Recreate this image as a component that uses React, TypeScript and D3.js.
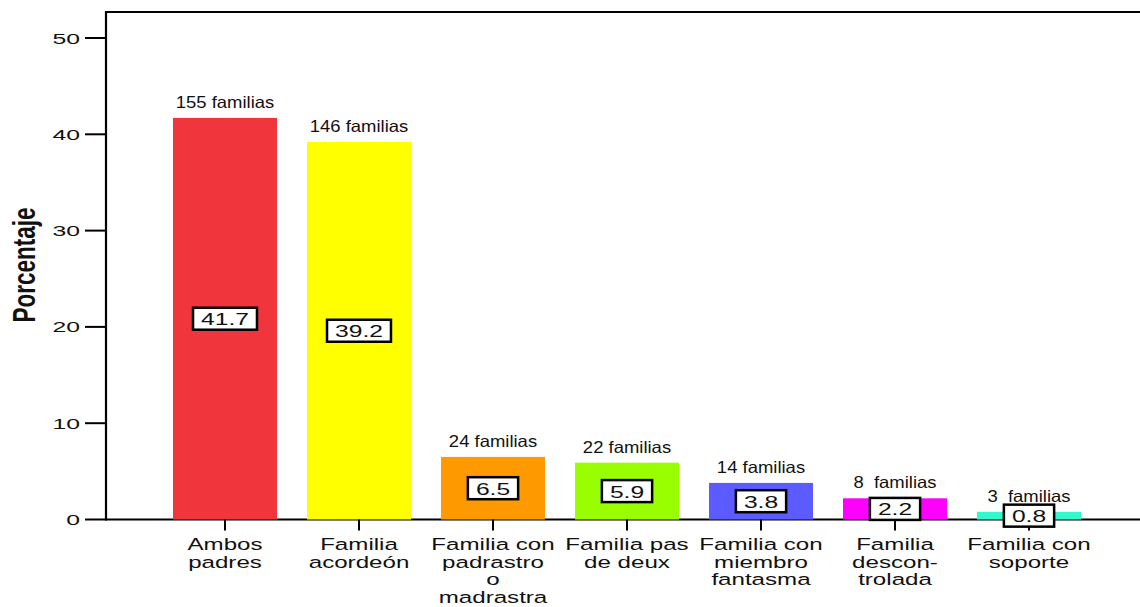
import React, { useEffect, useRef } from 'react';
import * as d3 from 'd3';

const categories = [
  ['Ambos', 'padres'],
  ['Familia', 'acordeón'],
  ['Familia con', 'padrastro', 'o', 'madrastra'],
  ['Familia pas', 'de deux'],
  ['Familia con', 'miembro', 'fantasma'],
  ['Familia', 'descon-', 'trolada'],
  ['Familia con', 'soporte'],
];
const percentages = [41.7, 39.2, 6.5, 5.9, 3.8, 2.2, 0.8];
const familyLabels = ['155 familias', '146 familias', '24 familias', '22 familias', '14 familias', '8  familias', '3  familias'];
const barColors = ['#f1353c', '#ffff00', '#ff9900', '#99ff00', '#5b5bff', '#ff00ff', '#33f8cc'];
const yTicks = [0, 10, 20, 30, 40, 50];

const W = 1140;
const H = 607;
const FONT = '"Liberation Sans", Arial, Helvetica, sans-serif';

const App = () => {
  const ref = useRef<SVGSVGElement>(null);

  useEffect(() => {
    const svg = d3.select(ref.current);
    svg.selectAll('*').remove();

    const keys = categories.map(c => c.join(' '));
    const x = d3.scaleBand<string>()
      .domain(keys)
      .range([158, 1096])
      .paddingInner(0.224)
      .paddingOuter(0.112);
    const y = d3.scaleLinear().domain([0, 52.7]).range([519.5, 12]);
    const cx = (i: number) => (x(keys[i]) as number) + x.bandwidth() / 2;

    // frame: left axis, top border, baseline
    svg.append('line')
      .attr('x1', 106).attr('x2', W).attr('y1', y(52.7)).attr('y2', y(52.7))
      .attr('stroke', '#000').attr('stroke-width', 2);
    svg.append('line')
      .attr('x1', 106).attr('x2', 106).attr('y1', y(52.7) - 1).attr('y2', y(0) + 1)
      .attr('stroke', '#000').attr('stroke-width', 2.2);
    svg.append('line')
      .attr('x1', 106).attr('x2', W).attr('y1', y(0)).attr('y2', y(0))
      .attr('stroke', '#000').attr('stroke-width', 2);

    // y ticks
    const yAxis = svg.append('g').attr('transform', 'translate(106,0)');
    yTicks.forEach(t => {
      yAxis.append('line')
        .attr('x1', -21).attr('x2', 0).attr('y1', y(t)).attr('y2', y(t))
        .attr('stroke', '#000').attr('stroke-width', 2);
      yAxis.append('g')
        .attr('transform', `translate(-26,${y(t) + 5.5}) scale(1.65,1)`)
        .append('text')
        .attr('text-anchor', 'end')
        .attr('font-family', FONT)
        .attr('font-size', 15)
        .attr('fill', '#111')
        .text(t);
    });

    // y title
    svg.append('g')
      .attr('transform', 'translate(35,265) scale(1.4,1) rotate(-90)')
      .append('text')
      .attr('text-anchor', 'middle')
      .attr('font-family', FONT)
      .attr('font-size', 22.5)
      .attr('font-weight', 'bold')
      .attr('fill', '#111')
      .text('Porcentaje');

    // bars
    svg.selectAll('rect.bar')
      .data(percentages)
      .join('rect')
      .attr('class', 'bar')
      .attr('x', (d, i) => x(keys[i]) as number)
      .attr('y', d => y(d))
      .attr('width', x.bandwidth())
      .attr('height', d => y(0) - y(d))
      .attr('fill', (d, i) => barColors[i]);

    // x ticks
    keys.forEach((k, i) => {
      svg.append('line')
        .attr('x1', cx(i)).attr('x2', cx(i)).attr('y1', y(0)).attr('y2', y(0) + 11)
        .attr('stroke', '#000').attr('stroke-width', 2);
    });

    // category labels
    categories.forEach((lines, i) => {
      const t = svg.append('g')
        .attr('transform', `translate(${cx(i)},550) scale(1.42,1)`)
        .append('text')
        .attr('text-anchor', 'middle')
        .attr('font-family', FONT)
        .attr('font-size', 17)
        .attr('fill', '#111');
      lines.forEach((line, j) => {
        t.append('tspan').attr('x', 0).attr('dy', j === 0 ? 0 : 17.7).text(line);
      });
    });

    // family count labels
    percentages.forEach((v, i) => {
      svg.append('g')
        .attr('transform', `translate(${cx(i)},${y(v) - 10}) scale(1.12,1)`)
        .append('text')
        .attr('text-anchor', 'middle')
        .attr('font-family', FONT)
        .attr('font-size', 16.5)
        .attr('fill', '#111')
        .style('white-space', 'pre')
        .text(familyLabels[i]);
    });

    // value boxes
    percentages.forEach((v, i) => {
      const g = svg.append('g');
      const rect = g.append('rect');
      const t = g.append('g')
        .attr('transform', `translate(${cx(i)},${y(v / 2) + 6.5}) scale(1.45,1)`)
        .append('text')
        .attr('text-anchor', 'middle')
        .attr('font-family', FONT)
        .attr('font-size', 17)
        .attr('fill', '#111')
        .text(d3.format('.1f')(v));
      const w = (t.node() as SVGTextElement).getComputedTextLength() * 1.45 + 16;
      rect
        .attr('x', cx(i) - w / 2)
        .attr('y', y(v / 2) - 11)
        .attr('width', w)
        .attr('height', 22)
        .attr('fill', '#fff')
        .attr('stroke', '#000')
        .attr('stroke-width', 2.5);
    });
  }, []);

  return (
    <div style={{ position: 'absolute', left: 0, top: 0 }}>
      <svg ref={ref} width={W} height={H} style={{ display: 'block', background: '#fff' }} />
    </div>
  );
};

export default App;
